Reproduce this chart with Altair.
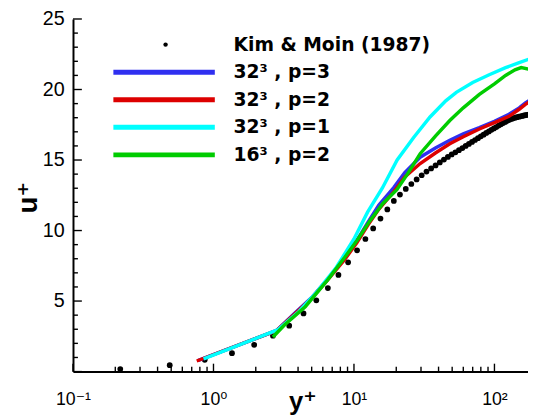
import altair as alt
import pandas as pd

# ---------------- data ----------------
ref_name = "Kim & Moin (1987)"
km_yplus = [0.217, 0.488, 0.867, 1.354, 1.948, 2.650, 3.459, 4.374, 5.394, 6.520,
            7.751, 9.085, 10.52, 12.06, 13.70, 15.44, 17.28, 19.22, 21.25, 23.38,
            25.61, 27.93, 30.34, 32.83, 35.42, 38.10, 40.86, 43.70, 46.63, 49.64,
            52.72, 55.88, 59.12, 62.43, 65.81, 69.26, 72.77, 76.35, 80.00, 83.70,
            87.46, 91.28, 95.15, 99.07, 103.04, 107.06, 111.12, 115.22, 119.36, 123.54,
            127.75, 131.99, 136.26, 140.56, 144.88, 149.23, 153.59, 157.97, 162.36, 166.76,
            171.17, 175.58]
km_uplus = [0.18, 0.45, 0.83, 1.30, 1.90, 2.54, 3.25, 4.12, 5.05, 5.92,
            6.85, 7.75, 8.60, 9.40, 10.15, 10.85, 11.50, 12.10, 12.55, 12.95,
            13.30, 13.62, 13.92, 14.18, 14.40, 14.62, 14.83, 15.03, 15.22, 15.40,
            15.55, 15.70, 15.85, 16.00, 16.14, 16.28, 16.42, 16.55, 16.68, 16.80,
            16.92, 17.03, 17.14, 17.24, 17.34, 17.44, 17.53, 17.62, 17.70, 17.78,
            17.85, 17.91, 17.96, 18.00, 18.04, 18.07, 18.10, 18.13, 18.16, 18.18,
            18.20, 18.22]

series_names = ["32³ , p=3", "32³ , p=2", "32³ , p=1", "16³ , p=2"]
series_colors = ["#2f2ff0", "#dd0000", "#00ffff", "#00cc00"]

p3_yplus = [0.78, 2.8, 3.8, 5.0, 6.5, 8.6, 10.5, 12.5, 15.0, 19.2, 23.0, 29.6, 38.0,
            48.1, 60.0, 78.1, 100.0, 127.0, 150.0, 166.0, 176.0]
p3_uplus = [0.80, 2.90, 4.15, 5.25, 6.55, 8.05, 9.30, 10.55, 11.80, 13.05, 14.10, 15.20, 15.85,
            16.40, 16.85, 17.30, 17.75, 18.25, 18.70, 19.05, 19.20]

p2_yplus = [0.76, 2.8, 3.8, 5.0, 6.5, 8.6, 10.5, 12.5, 15.0, 19.2, 23.0, 29.6, 38.0,
            48.1, 60.0, 78.1, 100.0, 127.0, 150.0, 166.0, 176.0]
p2_uplus = [0.75, 2.90, 4.10, 5.20, 6.50, 7.95, 9.15, 10.35, 11.50, 12.75, 13.80, 14.75, 15.50,
            16.15, 16.65, 17.20, 17.65, 18.10, 18.60, 18.95, 19.10]

p1_yplus = [0.85, 2.85, 4.0, 5.5, 7.5, 10.0, 12.5, 15.9, 20.3, 26.6, 34.8, 45.0, 53.5,
            70.0, 91.8, 120.0, 150.0, 176.0]
p1_uplus = [0.90, 2.95, 4.20, 5.70, 7.40, 9.40, 11.30, 13.00, 15.00, 16.60, 18.05, 19.20, 19.80,
            20.50, 21.05, 21.55, 21.90, 22.15]

g16_yplus = [2.65, 3.2, 4.5, 6.5, 8.6, 10.5, 13.0, 16.0, 20.2, 24.0, 29.6, 38.0, 48.1,
             60.0, 78.1, 100.0, 120.0, 140.0, 155.0, 176.0]
g16_uplus = [2.45, 3.30, 4.60, 6.50, 8.10, 9.30, 10.70, 11.90, 12.90, 14.00, 15.45, 16.70, 17.80,
             18.70, 19.65, 20.40, 21.00, 21.40, 21.55, 21.45]

x_major = [0.1, 1, 10, 100]
x_major_labels = ["10⁻¹", "10⁰", "10¹", "10²"]
x_minor = [0.2, 0.3, 0.4, 0.5, 0.6, 0.7, 0.8, 0.9,
           2, 3, 4, 5, 6, 7, 8, 9,
           20, 30, 40, 50, 60, 70, 80, 90]
y_major = [0, 5, 10, 15, 20, 25]
y_labels = [5, 10, 15, 20, 25]
y_minor = [1, 2, 3, 4, 6, 7, 8, 9, 11, 12, 13, 14, 16, 17, 18, 19, 21, 22, 23, 24]

legend_labels = [ref_name] + series_names

# ---------------- tables ----------------
rows = []
for name, xs_, us_ in zip(series_names,
                          [p3_yplus, p2_yplus, p1_yplus, g16_yplus],
                          [p3_uplus, p2_uplus, p1_uplus, g16_uplus]):
    for a, b in zip(xs_, us_):
        rows.append({"series": name, "yplus": a, "uplus": b})
lines_df = pd.DataFrame(rows)
km_df = pd.DataFrame({"yplus": km_yplus, "uplus": km_uplus})

# tick tables: x ticks sit on the x axis (u+ = 0), y ticks on the y axis (y+ = 0.1)
xt_major_df = pd.DataFrame({"yplus": x_major, "uplus": [0] * len(x_major)})
xt_minor_df = pd.DataFrame({"yplus": x_minor, "uplus": [0] * len(x_minor)})
yt_major_df = pd.DataFrame({"yplus": [0.1] * len(y_major), "uplus": y_major})
yt_minor_df = pd.DataFrame({"yplus": [0.1] * len(y_minor), "uplus": y_minor})

# ---------------- layout ----------------
W, H = 462, 358
x_scale = alt.Scale(type="log", domain=[0.1, 173.3])
y_scale = alt.Scale(domain=[0, 25], nice=False, zero=False)
color_scale = alt.Scale(domain=series_names, range=series_colors)

label_expr = "".join(f"datum.value == {v} ? '{l}' : " for v, l in zip(x_major, x_major_labels)) + "''"

FONT = "Liberation Sans, Arial, DejaVu Sans"

main_x = alt.Axis(orient="bottom", values=x_major, labelExpr=label_expr, ticks=False,
                  grid=False, domainColor="black", domainWidth=2,
                  labelFont=FONT, labelFontSize=18, labelColor="black", labelPadding=19,
                  labelFlush=False, labelOverlap=False,
                  title="y⁺", titleFont=FONT, titleFontSize=26, titleFontWeight="bold",
                  titleColor="black", titleX=233, titleY=39, titleBaseline="alphabetic",
                  titleAlign="center")
main_y = alt.Axis(orient="left", values=y_labels, ticks=False,
                  grid=False, domainColor="black", domainWidth=2,
                  labelFont=FONT, labelFontSize=20, labelColor="black", labelPadding=9,
                  title="u⁺", titleFont=FONT, titleFontSize=28, titleFontWeight="bold",
                  titleColor="black", titleAngle=270, titleX=-37, titleY=181,
                  titleBaseline="alphabetic", titleAlign="center")

points = alt.Chart(km_df).mark_circle(size=34, color="black", opacity=1).encode(
    x=alt.X("yplus:Q", scale=x_scale, axis=main_x),
    y=alt.Y("uplus:Q", scale=y_scale, axis=main_y),
)

# inward-pointing tick marks as stroke symbols (length = sqrt(size)/2)
UP = "M0,0L0,-1"
RIGHT = "M0,0L1,0"

def tick_layer(df, shape, size):
    return alt.Chart(df).mark_point(
        shape=shape, size=size, filled=False, stroke="black", strokeWidth=1.4,
        opacity=1, clip=False
    ).encode(x=alt.X("yplus:Q", scale=x_scale), y=alt.Y("uplus:Q", scale=y_scale))

line_layers = []
for name in series_names:
    line_layers.append(
        alt.Chart(lines_df).transform_filter(alt.datum.series == name)
        .mark_line(strokeWidth=3.5, clip=True)
        .encode(
            x=alt.X("yplus:Q", scale=x_scale),
            y=alt.Y("uplus:Q", scale=y_scale),
            color=alt.Color("series:N", scale=color_scale, legend=None),
            order=alt.Order("yplus:Q"),
        )
    )

# legend drawn in the upper-left corner of the plot
ROW0, STEP = 26, 28
legend_layers = []
for i, lab in enumerate(legend_labels):
    ypix = ROW0 + STEP * i
    legend_layers.append(
        alt.Chart(pd.DataFrame({"label": [lab]})).mark_text(
            align="left", baseline="middle", font="DejaVu Sans", fontWeight="bold",
            fontSize=19, color="black"
        ).encode(x=alt.value(163), y=alt.value(ypix), text="label:N")
    )
    if i == 0:
        legend_layers.append(
            alt.Chart(pd.DataFrame({"label": [lab]})).mark_circle(
                size=20, color="black", opacity=1
            ).encode(x=alt.value(94), y=alt.value(ypix))
        )
    else:
        legend_layers.append(
            alt.Chart(pd.DataFrame({"label": [lab]})).mark_rule(strokeWidth=5).encode(
                x=alt.value(41), x2=alt.value(144), y=alt.value(ypix),
                color=alt.Color("label:N", scale=color_scale, legend=None),
            )
        )

chart = (
    alt.layer(points,
              tick_layer(xt_major_df, UP, 256), tick_layer(xt_minor_df, UP, 100),
              tick_layer(yt_major_df, RIGHT, 324), tick_layer(yt_minor_df, RIGHT, 100),
              *line_layers, *legend_layers)
    .properties(width=W, height=H,
                padding={"left": 66, "top": 8, "right": 0, "bottom": 45},
                autosize=alt.AutoSizeParams(type="none"),
                background="white")
    .configure_view(stroke=None)
)

chart.save("out.html", embed_options={"renderer": "svg", "actions": False})
